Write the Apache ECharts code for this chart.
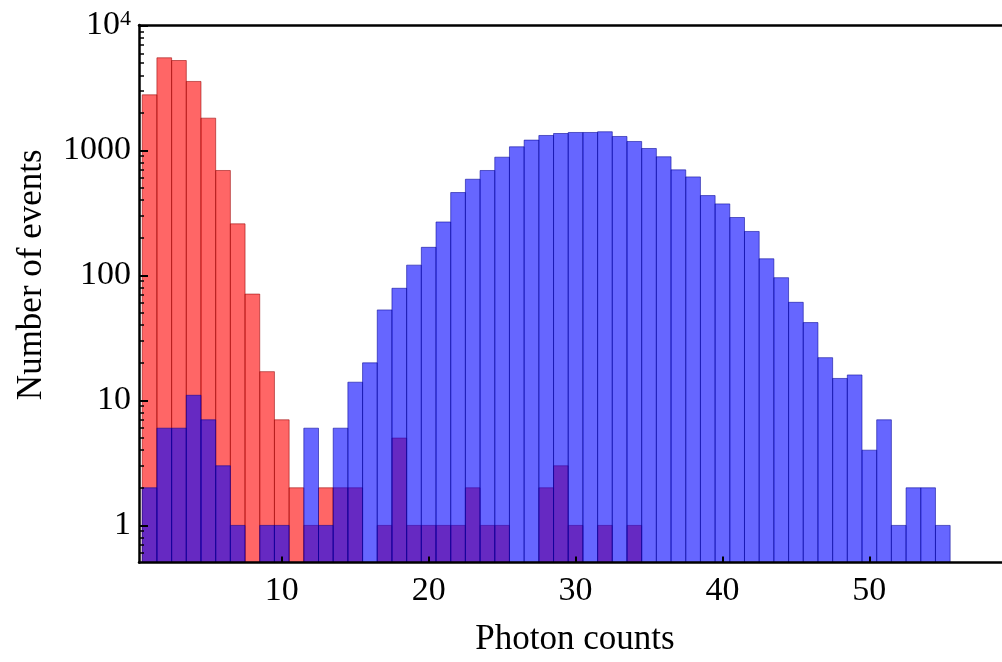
<!DOCTYPE html>
<html>
<head>
<meta charset="utf-8">
<title>Photon counts histogram</title>
<script src="https://cdn.jsdelivr.net/npm/echarts@6/dist/echarts.min.js"></script>
<style>
  html, body { margin: 0; padding: 0; background: #fff; }
  #chart { width: 1002px; height: 662px; }
</style>
</head>
<body>
<div id="chart"></div>
<script>
// bin centres (photon counts per event)
var photonBins = [1, 2, 3, 4, 5, 6, 7, 8, 9, 10, 11, 12, 13, 14, 15, 16, 17, 18, 19, 20,
  21, 22, 23, 24, 25, 26, 27, 28, 29, 30, 31, 32, 33, 34, 35, 36, 37, 38, 39, 40,
  41, 42, 43, 44, 45, 46, 47, 48, 49, 50, 51, 52, 53, 54, 55]
// red histogram, bins 1..34 (empty after that)
var redCounts = [2790, 5520, 5250, 3570, 1815, 692, 259, 71, 17, 7, 2, 1, 2, 2, 2, 0, 1, 5, 1, 1,
  1, 1, 2, 1, 1, 0, 0, 2, 3, 1, 0, 1, 0, 1]
// blue histogram, bins 1..55
var blueCounts = [2, 6, 6, 11, 7, 3, 1, 0, 1, 1, 0, 6, 1, 6, 14, 20, 53, 79, 121, 168,
  268, 461, 589, 692, 884, 1071, 1211, 1319, 1368, 1394, 1394, 1413, 1295, 1181, 1038, 891, 700, 615, 436, 374,
  291, 225, 136, 96, 61, 42, 22, 15, 16, 4, 7, 1, 2, 2, 1]

var xTicks = [10, 20, 30, 40, 50]
var yMajorTicks = [1, 10, 100, 1000, 10000]
var yMinorTicks = [0.6, 0.7, 0.8, 0.9, 2, 3, 4, 5, 6, 7, 8, 9, 20, 30, 40, 50, 60, 70, 80, 90,
  200, 300, 400, 500, 600, 700, 800, 900, 2000, 3000, 4000, 5000, 6000, 7000, 8000, 9000]

var FONT = '"Liberation Serif", "DejaVu Serif", "Times New Roman", serif'
var Y_MIN = 0.505
var Y_MAX = 10100

function toPairs (counts) {
  var out = []
  counts.forEach(function (c, i) {
    if (c > 0) out.push([photonBins[i], c])
  })
  return out
}

// one rect per bin, from the bottom of the frame up to the count
function barItem (fill, stroke) {
  return function (params, api) {
    var topLeft = api.coord([api.value(0) - 0.5, api.value(1)])
    var bottomRight = api.coord([api.value(0) + 0.5, Y_MIN])
    return {
      type: 'rect',
      shape: {
        x: topLeft[0],
        y: topLeft[1],
        width: bottomRight[0] - topLeft[0],
        height: bottomRight[1] - topLeft[1]
      },
      style: { fill: fill, stroke: stroke, lineWidth: 1 }
    }
  }
}

var chart = echarts.init(document.getElementById('chart'))
chart.setOption({
  animation: false,
  backgroundColor: '#fff',
  grid: { left: 139, right: 0, top: 25, bottom: 99.5, outerBoundsMode: 'none' },
  xAxis: [{
    type: 'value',
    min: 0.28,
    max: 59.03,
    position: 'bottom',
    z: 10,
    splitLine: { show: false },
    axisLine: { lineStyle: { color: '#000', width: 2.5 } },
    axisTick: { inside: true, length: 6, customValues: xTicks, lineStyle: { color: '#000', width: 2 } },
    axisLabel: { customValues: xTicks, margin: 12, fontSize: 34, fontFamily: FONT, color: '#000' },
    name: 'Photon counts',
    nameLocation: 'middle',
    nameGap: 60,
    nameTextStyle: { fontSize: 35, fontFamily: FONT, color: '#000', padding: [0, 0, 0, 9] }
  }, {
    type: 'value',
    min: 0.28,
    max: 59.03,
    position: 'top',
    z: 10,
    splitLine: { show: false },
    axisLine: { lineStyle: { color: '#000', width: 2.5 } },
    axisTick: { show: false },
    axisLabel: { show: false }
  }],
  yAxis: [{
    type: 'log',
    logBase: 10,
    min: Y_MIN,
    max: Y_MAX,
    z: 10,
    splitLine: { show: false },
    axisLine: { lineStyle: { color: '#000', width: 2.5 } },
    axisTick: { inside: true, length: 9, customValues: yMajorTicks, lineStyle: { color: '#000', width: 2 } },
    axisLabel: {
      customValues: yMajorTicks,
      margin: 8,
      fontSize: 34,
      fontFamily: FONT,
      color: '#000',
      formatter: function (v) {
        var r = Math.round(v)
        return r === 10000 ? '{b|10}{s|4}' : String(r)
      },
      rich: {
        b: { fontSize: 34, fontFamily: FONT, color: '#000' },
        s: { fontSize: 22, fontFamily: FONT, color: '#000', verticalAlign: 'top' }
      }
    },
    name: 'Number of events',
    nameLocation: 'middle',
    nameRotate: 90,
    nameGap: 90,
    nameTextStyle: { fontSize: 35, fontFamily: FONT, color: '#000', padding: [0, 0, 0, 38] }
  }, {
    // minor ticks only
    type: 'log',
    logBase: 10,
    min: Y_MIN,
    max: Y_MAX,
    position: 'left',
    z: 10,
    splitLine: { show: false },
    axisLine: { show: false },
    axisTick: { inside: true, length: 5, customValues: yMinorTicks, lineStyle: { color: '#000', width: 1.5 } },
    axisLabel: { show: false }
  }],
  series: [{
    name: 'red',
    type: 'custom',
    xAxisIndex: 0,
    yAxisIndex: 0,
    clip: true,
    encode: { x: 0, y: 1 },
    renderItem: barItem('rgba(255, 0, 0, 0.6)', 'rgba(150, 0, 0, 0.55)'),
    data: toPairs(redCounts)
  }, {
    name: 'blue',
    type: 'custom',
    xAxisIndex: 0,
    yAxisIndex: 0,
    clip: true,
    encode: { x: 0, y: 1 },
    renderItem: barItem('rgba(0, 0, 255, 0.6)', 'rgba(0, 0, 150, 0.55)'),
    data: toPairs(blueCounts)
  }]
})
window.addEventListener('resize', function () { chart.resize() })
</script>
</body>
</html>
